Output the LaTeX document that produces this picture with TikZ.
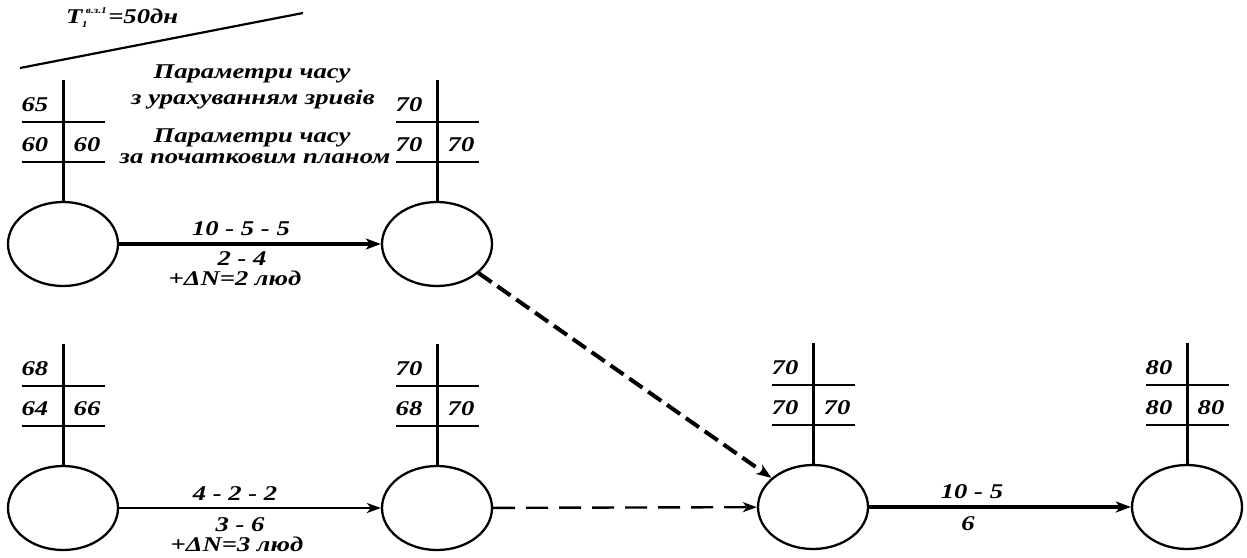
\documentclass[tikz,border=0pt]{standalone}
\usepackage{fontspec}
\newfontfamily\tf[FakeStretch=1.27]{Liberation Serif}
\usetikzlibrary{arrows.meta,shapes.geometric,calc}
\begin{document}
\begin{tikzpicture}[x={(1pt,0pt)},y={(0pt,-1pt)},
 font=\tf\bfseries\itshape\fontsize{21}{24}\selectfont,
 ev/.style={draw,ellipse,line width=2.3pt,minimum width=110pt,minimum height=84pt,inner sep=0pt},
 stem/.style={line width=3pt},
 bar/.style={line width=2.7pt},
 lbl/.style={anchor=base,inner sep=0pt},
 small/.style={anchor=base west,inner sep=0pt,font=\tf\bfseries\itshape\fontsize{9}{9}\selectfont},
 thk/.style={line width=4pt,-{Stealth[length=15pt,width=11pt,inset=4pt]}},
 thn/.style={line width=2.4pt,-{Stealth[length=14pt,width=10pt,inset=4pt]}},
 dthk/.style={thk,dash pattern=on 16pt off 7pt},
 dthn/.style={thn,dash pattern=on 22pt off 11pt}
]
\path[use as bounding box] (0,0) rectangle (1247,557);

\foreach \n/\x/\y/\a/\b/\c in {A/63/244/65/60/60, B/437/244/70/70/70, E/63/508/68/64/66, F/437/508/70/68/70, C/813/507/70/70/70, D/1187/507/80/80/80}{
  \node[ev] (\n) at (\x,\y) {};
  \coordinate (\n-t) at (\x,\y-164);
  \draw[stem] (\n.north) -- (\n-t);
  \coordinate (\n-l1) at (\x-41,\y-122);
  \coordinate (\n-r1) at (\x+42,\y-122);
  \coordinate (\n-l2) at (\x-41,\y-82);
  \coordinate (\n-r2) at (\x+42,\y-82);
  \draw[bar] (\n-l1) -- (\n-r1);
  \draw[bar] (\n-l2) -- (\n-r2);
  \node[lbl] (\n-a) at (\x-28,\y-133) {\a};
  \node[lbl] (\n-b) at (\x-28,\y-93) {\b};
  \node[lbl] (\n-c) at (\x+24,\y-93) {\c};
}

\draw[thk] (A) -- (B);
\draw[thn] (E) -- (F);
\draw[dthn] (F) -- (C);
\draw[dthk] (B) -- (C);
\draw[thk] (C) -- (D);

\node[lbl] (l1) at (241,235) {10 - 5 - 5};
\node[lbl] (l2) at (242,265) {2 - 4};
\node[lbl] (l3) at (235,285) {+ΔN=2 люд};
\node[lbl] (l4) at (235,500) {4 - 2 - 2};
\node[lbl] (l5) at (240,531) {3 - 6};
\node[lbl] (l6) at (237,551) {+ΔN=3 люд};
\node[lbl] (l7) at (972,498) {10 - 5};
\node[lbl] (l8) at (968,530) {6};

\node[lbl] (p1) at (252,78) {Параметри часу};
\node[lbl] (p2) at (253,104) {з урахуванням зривів};
\node[lbl] (p3) at (252,142) {Параметри часу};
\node[lbl] (p4) at (255,163) {за початковим планом};

\coordinate (s1) at (20,68);
\coordinate (s2) at (303,13);
\draw[line width=2.2pt] (s1) -- (s2);
\node[lbl,anchor=base west] (T) at (66,23) {T};
\node[small] (Tsub) at ($(T.base east)+(-1,4)$) {1};
\node[small] (Tsup) at ($(T.base east)+(3,-10)$) {в.з.1};
\node[lbl,anchor=base west] (Teq) at ($(Tsup.base east)+(1,10)$) {=50дн};
\end{tikzpicture}
\end{document}
